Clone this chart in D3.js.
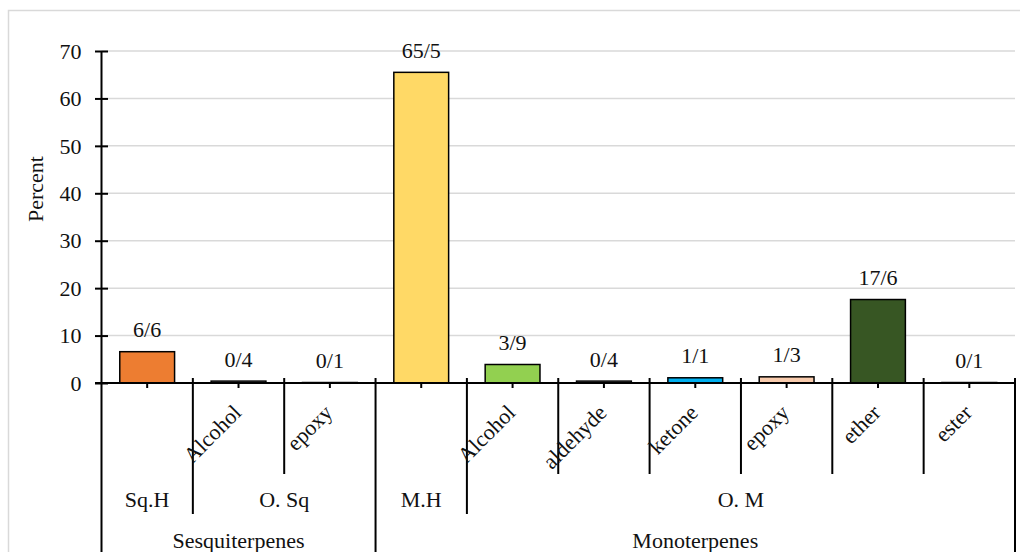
<!DOCTYPE html>
<html>
<head>
<meta charset="utf-8">
<script src="https://cdn.jsdelivr.net/npm/d3@7/dist/d3.min.js"></script>
<style>
  html, body { margin: 0; padding: 0; background: #fff; }
  svg { display: block; }
  text { font-family: "Liberation Serif", "Times New Roman", serif; fill: #111; }
</style>
</head>
<body>
<svg id="chart" width="1020" height="552"></svg>
<script>
// ---- data ----
const level1Labels = ["", "Alcohol", "epoxy", "", "Alcohol", "aldehyde", "ketone", "epoxy", "ether", "ester"];
const values = [6.6, 0.4, 0.1, 65.5, 3.9, 0.4, 1.1, 1.3, 17.6, 0.1];
const valueLabels = ["6/6", "0/4", "0/1", "65/5", "3/9", "0/4", "1/1", "1/3", "17/6", "0/1"];
const barColors = ["#ED7D31", "#A5A5A5", "#A5A5A5", "#FFD966", "#92D050", "#A5A5A5", "#00B0F0", "#F8CBAD", "#375623", "#A5A5A5"];
const level2Labels = ["Sq.H", "O. Sq", "M.H", "O. M"];
const level2Spans = [1, 2, 1, 6];
const level3Labels = ["Sesquiterpenes", "Monoterpenes"];
const level3Spans = [3, 7];
const yTicks = [0, 10, 20, 30, 40, 50, 60, 70];
const yTitle = "Percent";

// ---- layout ----
const svg = d3.select("#chart");
const plotLeft = 101.5, plotRight = 1015, plotTop = 51, plotBottom = 383;
const x = d3.scaleBand().domain(d3.range(values.length)).range([plotLeft, plotRight]).padding(0);
const y = d3.scaleLinear().domain([0, 70]).range([plotBottom, plotTop]);
const bw = x.bandwidth();
const fs = 22;

// chart border
svg.append("rect").attr("x", 8.5).attr("y", 10.5).attr("width", 1030).attr("height", 560)
  .attr("fill", "none").attr("stroke", "#d9d9d9").attr("stroke-width", 1.5);

// gridlines
svg.append("g").selectAll("line").data(yTicks.filter(d => d > 0)).join("line")
  .attr("x1", plotLeft).attr("x2", plotRight)
  .attr("y1", d => y(d)).attr("y2", d => y(d))
  .attr("stroke", "#d9d9d9").attr("stroke-width", 1.5);

// bars
svg.append("g").selectAll("rect").data(values).join("rect")
  .attr("x", (d, i) => x(i) + bw * 0.2)
  .attr("width", bw * 0.6)
  .attr("y", d => y(d))
  .attr("height", d => y(0) - y(d))
  .attr("fill", (d, i) => barColors[i])
  .attr("stroke", "#000").attr("stroke-width", 1.5);

// value labels
svg.append("g").selectAll("text").data(values).join("text")
  .attr("x", (d, i) => x(i) + bw / 2)
  .attr("y", d => y(d) - 14.5)
  .attr("text-anchor", "middle")
  .attr("font-size", fs)
  .text((d, i) => valueLabels[i]);

// y axis
const yAxis = svg.append("g").attr("transform", `translate(${plotLeft},0)`)
  .call(d3.axisLeft(y).tickValues(yTicks).tickSize(6.5).tickFormat(d3.format("d")));
yAxis.select(".domain").remove();
yAxis.selectAll(".tick line").attr("x1", 6.5).attr("x2", -6.5).attr("stroke", "#000").attr("stroke-width", 2);
yAxis.selectAll(".tick text").attr("x", -20).attr("dy", "0.33em")
  .attr("font-size", fs).attr("font-family", "Liberation Serif").attr("fill", "#111");
svg.append("line").attr("x1", plotLeft).attr("x2", plotLeft).attr("y1", plotTop).attr("y2", 552)
  .attr("stroke", "#000").attr("stroke-width", 2);

// y title
svg.append("text")
  .attr("transform", `translate(43,189) rotate(-90)`)
  .attr("text-anchor", "middle")
  .attr("font-size", fs)
  .text(yTitle);

// x axis line
svg.append("line").attr("x1", plotLeft - 6.5).attr("x2", plotRight).attr("y1", plotBottom).attr("y2", plotBottom)
  .attr("stroke", "#000").attr("stroke-width", 2);

// center ticks
svg.append("g").selectAll("line").data(values).join("line")
  .attr("x1", (d, i) => x(i) + bw / 2).attr("x2", (d, i) => x(i) + bw / 2)
  .attr("y1", plotBottom).attr("y2", plotBottom + 5)
  .attr("stroke", "#000").attr("stroke-width", 2);

// dividers between categories
const l2Bounds = d3.cumsum(level2Spans);
const l3Bounds = d3.cumsum(level3Spans);
const dividers = [];
for (let k = 1; k <= values.length; k++) {
  let yEnd = 474;
  if (l3Bounds.includes(k)) yEnd = 552;
  else if (l2Bounds.includes(k)) yEnd = 514;
  const xx = k < values.length ? x(k) : plotRight;
  dividers.push({ x: xx, y2: yEnd });
}
svg.append("g").selectAll("line").data(dividers).join("line")
  .attr("x1", d => d.x).attr("x2", d => d.x)
  .attr("y1", plotBottom - 5).attr("y2", d => d.y2)
  .attr("stroke", "#000").attr("stroke-width", 2);

// level-1 rotated labels
svg.append("g").selectAll("text").data(level1Labels).join("text")
  .attr("transform", (d, i) => `translate(${x(i) + bw / 2 + 4},414) rotate(-45)`)
  .attr("text-anchor", "end")
  .attr("font-size", fs)
  .text(d => d);

// level-2 labels
let start = 0;
level2Labels.forEach((lab, j) => {
  const x0 = x(start), x1 = start + level2Spans[j] < values.length ? x(start + level2Spans[j]) : plotRight;
  svg.append("text").attr("x", (x0 + x1) / 2).attr("y", 507)
    .attr("text-anchor", "middle").attr("font-size", fs).text(lab);
  start += level2Spans[j];
});

// level-3 labels
start = 0;
level3Labels.forEach((lab, j) => {
  const x0 = x(start), x1 = start + level3Spans[j] < values.length ? x(start + level3Spans[j]) : plotRight;
  svg.append("text").attr("x", (x0 + x1) / 2).attr("y", 548)
    .attr("text-anchor", "middle").attr("font-size", fs).text(lab);
  start += level3Spans[j];
});
</script>
</body>
</html>
